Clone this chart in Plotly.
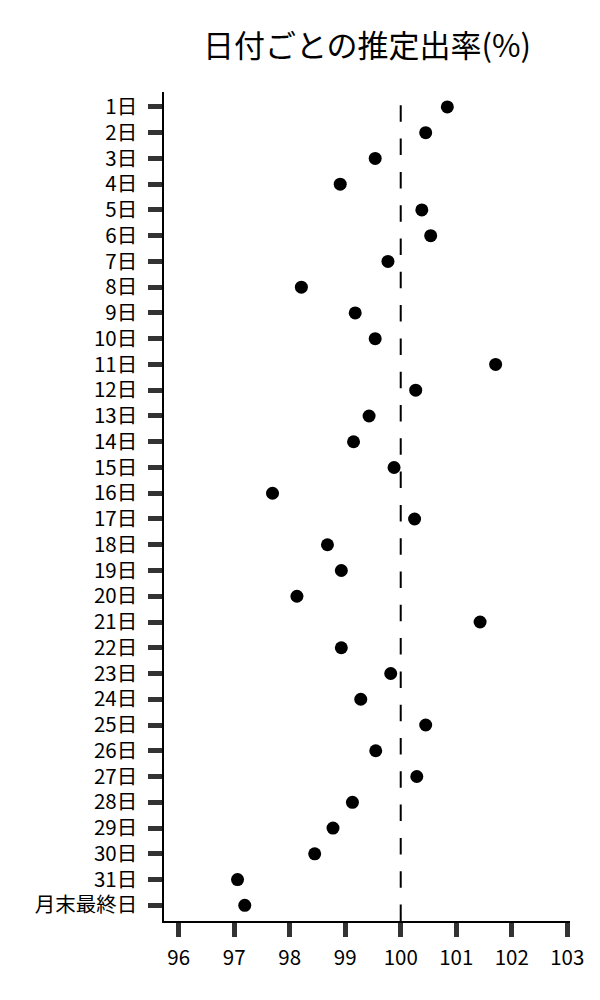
import plotly.graph_objects as go

categories = [f"{i}日" for i in range(1, 32)] + ["月末最終日"]
rates = [100.84, 100.45, 99.54, 98.91, 100.38, 100.54, 99.77, 98.21, 99.18, 99.54,
         101.71, 100.27, 99.43, 99.15, 99.88, 97.69, 100.25, 98.68, 98.93, 98.13,
         101.43, 98.93, 99.82, 99.28, 100.45, 99.55, 100.29, 99.13, 98.78, 98.45,
         97.06, 97.19]
x_ticks = [96, 97, 98, 99, 100, 101, 102, 103]
ref_value = 100
title_text = "日付ごとの推定出率(%)"

FONT = "Noto Sans CJK JP"

fig = go.Figure()
fig.add_trace(go.Scatter(
    x=rates, y=categories, mode="markers",
    marker=dict(size=13, color="black"),
    showlegend=False,
))
fig.add_shape(type="line", xref="x", yref="paper", x0=ref_value, x1=ref_value,
              y0=0, y1=1, line=dict(color="black", width=2, dash="16.5px,16.8px"))

fig.update_layout(
    width=600, height=1000,
    margin=dict(l=156, r=38, t=84, b=87),
    paper_bgcolor="white", plot_bgcolor="white",
    font=dict(family=FONT, color="black", size=20.5),
    title=dict(text=title_text, x=0.5, xref="paper", xanchor="center",
               y=1 - 38 / 1000, yanchor="middle", yref="container",
               font=dict(size=31, family=FONT, color="black")),
)
fig.update_xaxes(
    range=[95.735, 103.05], tickvals=x_ticks, ticktext=[str(v) for v in x_ticks],
    showgrid=False, zeroline=False, showline=True, linecolor="black", linewidth=1.5,
    ticks="outside", ticklen=14, tickwidth=5, tickcolor="#333333",
    ticklabelstandoff=4,
    tickfont=dict(size=20.5, family=FONT, color="black"),
)
fig.update_yaxes(
    type="category", categoryorder="array", categoryarray=categories,
    range=[31.61, -0.58],
    showgrid=False, zeroline=False, showline=True, linecolor="black", linewidth=1.5,
    ticks="outside", ticklen=14, tickwidth=5, tickcolor="#333333",
    ticklabelstandoff=7,
    tickfont=dict(size=20.5, family=FONT, color="black"),
)

fig.write_html("out.html")
